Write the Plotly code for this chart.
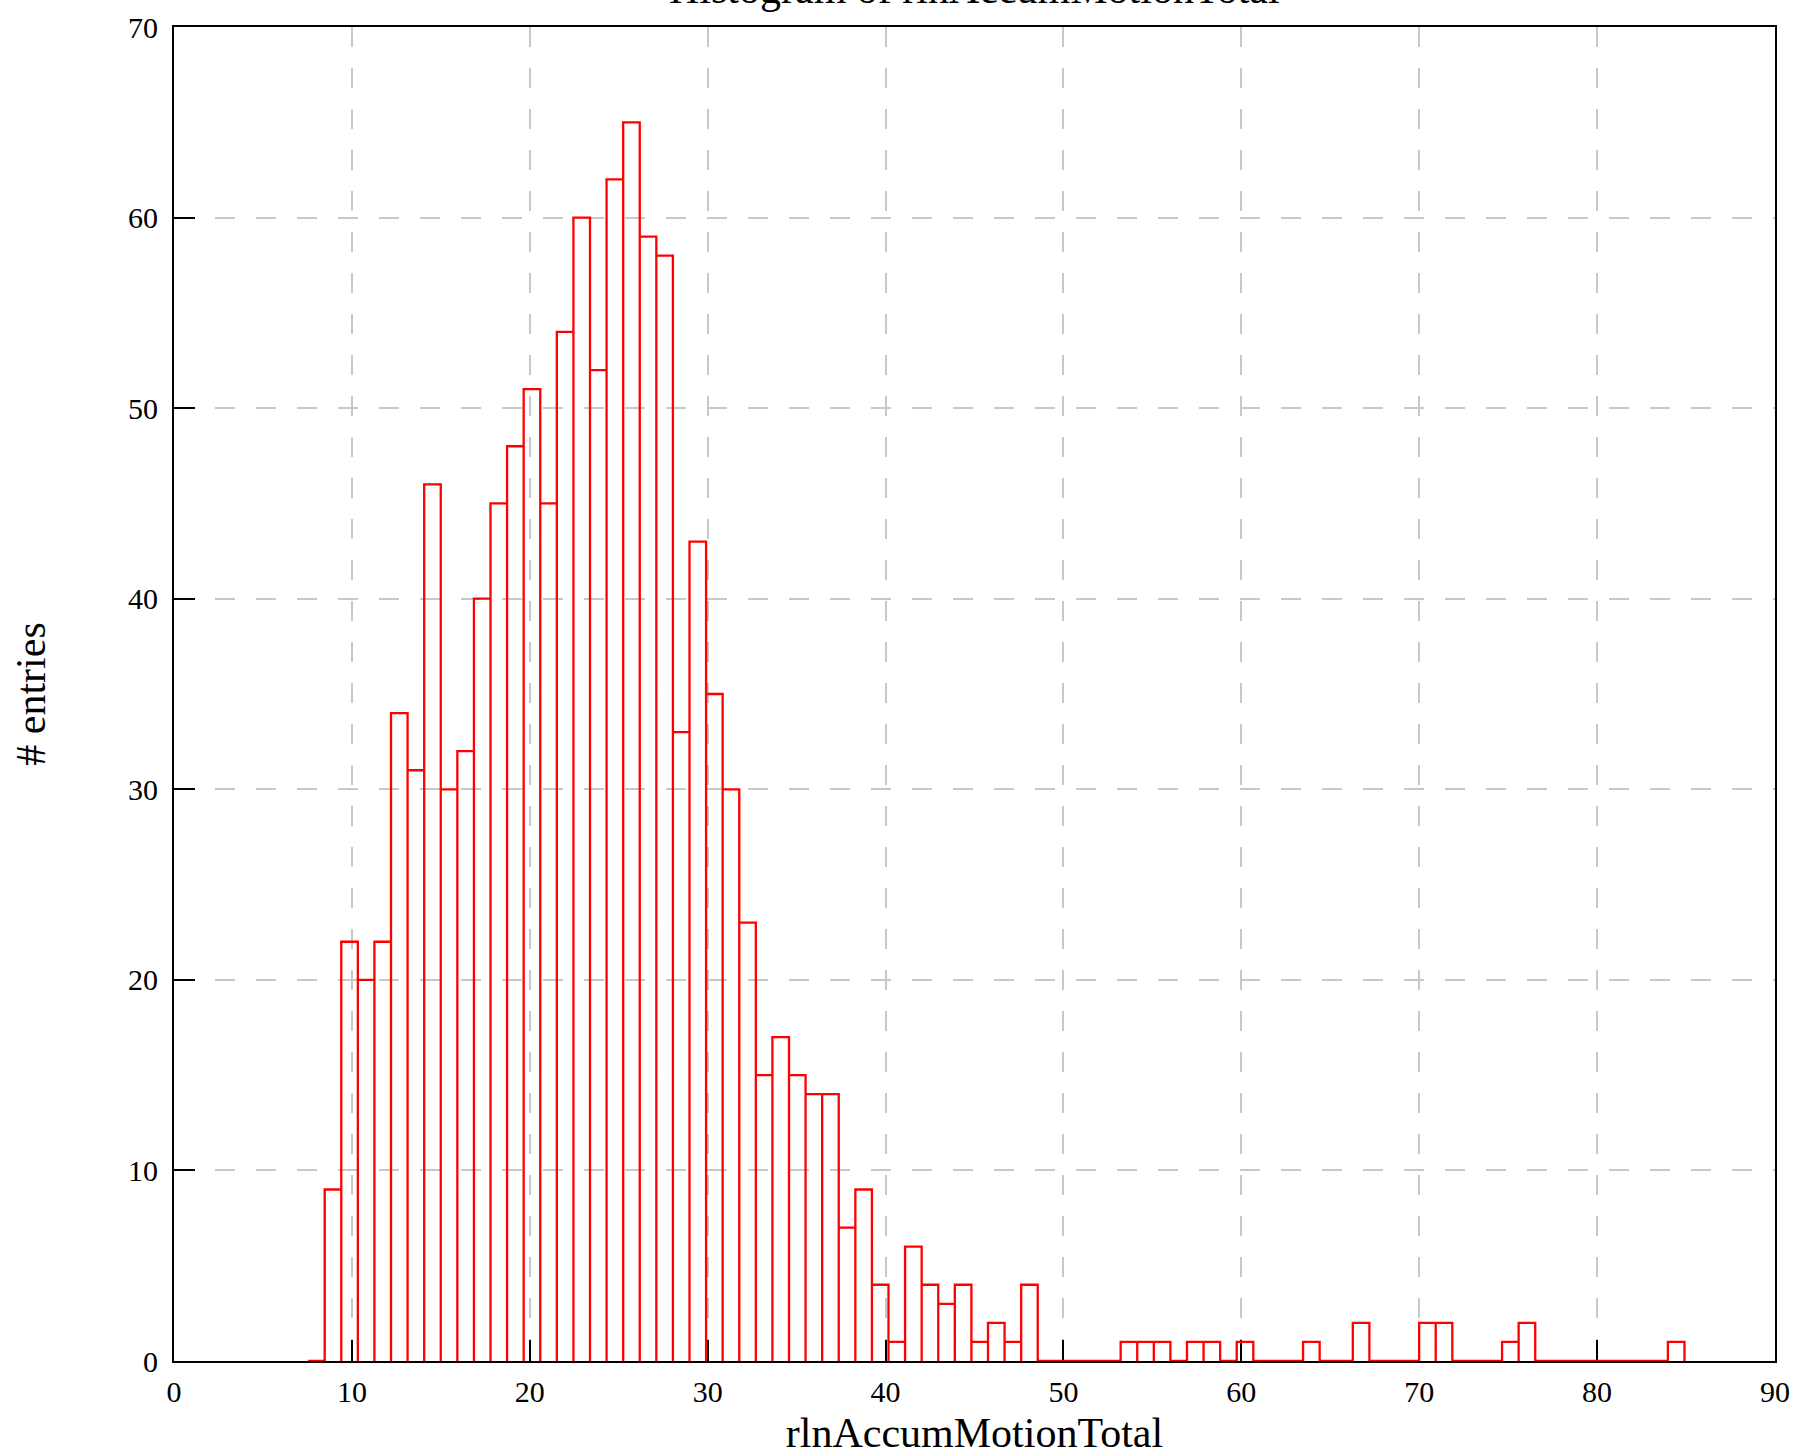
import numpy as np
import plotly.graph_objects as go

# Histogram data
bin_start = 7.538          # left edge of the first (empty) bin
bin_width = 0.9322
counts = [0,
          9, 22, 20, 22, 34, 31, 46, 30, 32, 40,
          45, 48, 51, 45, 54, 60, 52, 62, 65, 59,
          58, 33, 43, 35, 30, 23, 15, 17, 15, 14,
          14, 7, 9, 4, 1, 6, 4, 3, 4, 1,
          2, 1, 4, 0, 0, 0, 0, 0, 1, 1,
          1, 0, 1, 1, 0, 1, 0, 0, 0, 1,
          0, 0, 2, 0, 0, 0, 2, 2, 0, 0,
          0, 1, 2, 0, 0, 0, 0, 0, 0, 0,
          0, 1]
x_ticks = [0, 10, 20, 30, 40, 50, 60, 70, 80, 90]
y_ticks = [0, 10, 20, 30, 40, 50, 60, 70]
title_text = "Histogram of rlnAccumMotionTotal"
x_title = "rlnAccumMotionTotal"
y_title = "# entries"

# build outline of each bin (rectangles drawn down to the baseline)
edges = bin_start + bin_width * np.arange(len(counts) + 1)
xs, ys = [], []
for i, c in enumerate(counts):
    l, r = edges[i], edges[i + 1]
    xs += [l, l, r, r]
    ys += [0, c, c, 0]

FONT = "Liberation Serif"

fig = go.Figure()
fig.add_trace(go.Scatter(x=xs, y=ys, mode="lines",
                         line=dict(color="#ff0000", width=2.3),
                         hoverinfo="skip", showlegend=False))

axis_common = dict(
    showline=True, linecolor="black", linewidth=2, mirror=True,
    ticks="inside", ticklen=21, tickwidth=2, tickcolor="black",
    showgrid=True, gridcolor="#c8c8c8", gridwidth=2, griddash="20px,21px",
    zeroline=False, tickfont=dict(family=FONT, size=30, color="black"),
    layer="below traces", automargin=False,
)

fig.update_layout(
    width=1798, height=1456,
    margin=dict(l=174, r=23, t=27, b=95),
    paper_bgcolor="white", plot_bgcolor="white",
    font=dict(family=FONT, color="black"),
    xaxis=dict(range=[0, 90], tickvals=x_ticks, ticklabelstandoff=3,
               title=dict(text=x_title, font=dict(family=FONT, size=42), standoff=11),
               **axis_common),
    yaxis=dict(range=[0, 70], tickvals=y_ticks, ticklabelstandoff=8,
               title=dict(text=y_title, font=dict(family=FONT, size=42), standoff=69),
               **axis_common),
    annotations=[dict(text=title_text, xref="paper", yref="paper", x=0.5, y=1,
                      xanchor="center", yanchor="bottom", yshift=13,
                      showarrow=False, font=dict(family=FONT, size=42, color="black"))],
)

fig.write_html("out.html",
               config={"displayModeBar": False},
               post_script="document.body.style.margin='0px';document.body.style.overflow='hidden';")
